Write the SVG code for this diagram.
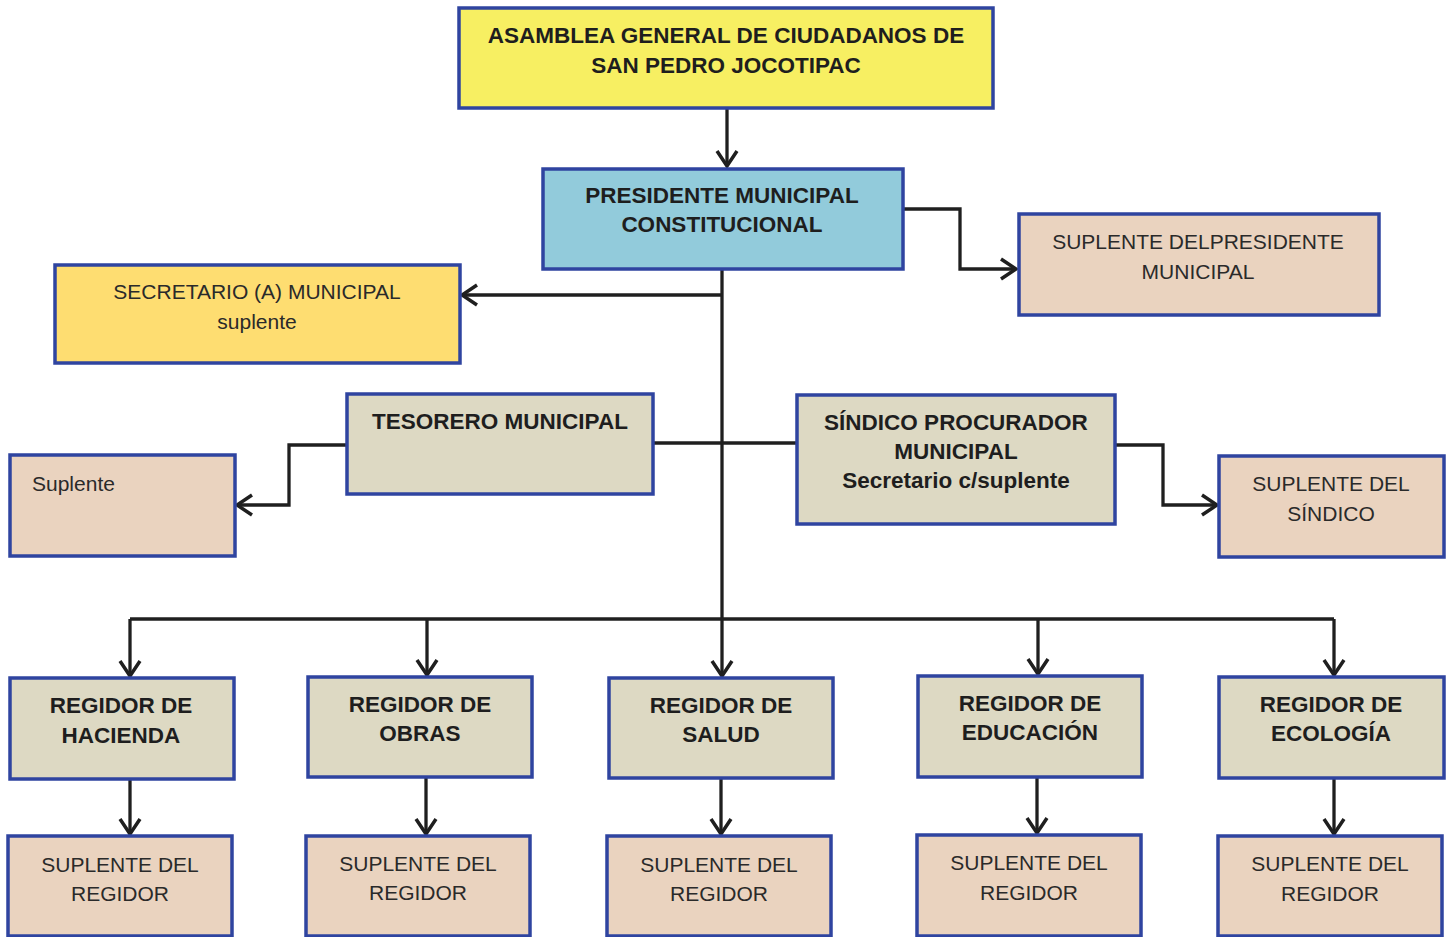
<svg xmlns="http://www.w3.org/2000/svg" width="1450" height="937" viewBox="0 0 1450 937">
<style>
.box{stroke:#2f44a0;stroke-width:3.5}
.yel{fill:#f7ef62}.blu{fill:#92cbdb}.pnk{fill:#ead3bf}.gol{fill:#fedd71}.tan{fill:#ddd9c3}
.b{font-family:"Liberation Sans",Arial,sans-serif;font-weight:bold;font-size:22.5px;fill:#1e1e1e;text-anchor:middle}
.r{font-family:"Liberation Sans",Arial,sans-serif;font-size:21px;fill:#2a2a2a;text-anchor:middle}
.c{fill:none;stroke:#1f1f1f;stroke-width:3.3}
</style>
<defs>
<marker id="a" markerUnits="userSpaceOnUse" viewBox="0 0 20 24" markerWidth="20" markerHeight="24" refX="17" refY="12" orient="auto">
<path d="M2,2 L17,12 L2,22" fill="none" stroke="#1f1f1f" stroke-width="3.5"/>
</marker>
</defs>
<rect width="1450" height="937" fill="#fff"/>
<g id="connectors">
<path class="c" d="M727,108 V166" marker-end="url(#a)"/>
<path class="c" d="M903,209 H960 V269 H1016" marker-end="url(#a)"/>
<path class="c" d="M722,269 V676" marker-end="url(#a)"/>
<path class="c" d="M722,295 H462" marker-end="url(#a)"/>
<path class="c" d="M650,443 H797"/>
<path class="c" d="M347,445 H289 V505 H237" marker-end="url(#a)"/>
<path class="c" d="M1104,445 H1163 V505 H1217" marker-end="url(#a)"/>
<path class="c" d="M130,619 H1334"/>
<path class="c" d="M130,619 V676" marker-end="url(#a)"/>
<path class="c" d="M427,619 V675" marker-end="url(#a)"/>
<path class="c" d="M1038,619 V674" marker-end="url(#a)"/>
<path class="c" d="M1334,619 V675" marker-end="url(#a)"/>
<path class="c" d="M130,779 V834" marker-end="url(#a)"/>
<path class="c" d="M426,777 V834" marker-end="url(#a)"/>
<path class="c" d="M721,778 V834" marker-end="url(#a)"/>
<path class="c" d="M1037,777 V833" marker-end="url(#a)"/>
<path class="c" d="M1334,779 V834" marker-end="url(#a)"/>
</g>
<g id="asamblea"><rect class="box yel" x="459" y="8" width="534" height="100"/>
<text class="b" x="726" y="43">ASAMBLEA GENERAL DE CIUDADANOS DE</text><text class="b" x="726" y="73">SAN PEDRO JOCOTIPAC</text></g>
<g id="presidente"><rect class="box blu" x="543" y="169" width="360" height="100"/>
<text class="b" x="722" y="203">PRESIDENTE MUNICIPAL</text><text class="b" x="722" y="232">CONSTITUCIONAL</text></g>
<g id="suplente-presidente"><rect class="box pnk" x="1019" y="214" width="360" height="101"/>
<text class="r" x="1198" y="249">SUPLENTE DELPRESIDENTE</text><text class="r" x="1198" y="279">MUNICIPAL</text></g>
<g id="secretario"><rect class="box gol" x="55" y="265" width="405" height="98"/>
<text class="r" x="257" y="299">SECRETARIO (A) MUNICIPAL</text><text class="r" x="257" y="329">suplente</text></g>
<g id="tesorero"><rect class="box tan" x="347" y="394" width="306" height="100"/>
<text class="b" x="500" y="429">TESORERO MUNICIPAL</text></g>
<g id="sindico"><rect class="box tan" x="797" y="395" width="318" height="129"/>
<text class="b" x="956" y="430">SÍNDICO PROCURADOR</text><text class="b" x="956" y="459">MUNICIPAL</text><text class="b" x="956" y="488">Secretario c/suplente</text></g>
<g id="suplente-tesorero"><rect class="box pnk" x="10" y="455" width="225" height="101"/>
<text class="r" x="32" y="491" style="text-anchor:start">Suplente</text></g>
<g id="suplente-sindico"><rect class="box pnk" x="1219" y="456" width="225" height="101"/>
<text class="r" x="1331" y="491">SUPLENTE DEL</text><text class="r" x="1331" y="521">SÍNDICO</text></g>
<g id="regidor-hacienda"><rect class="box tan" x="10" y="678" width="224" height="101"/>
<text class="b" x="121" y="713">REGIDOR DE</text><text class="b" x="121" y="743">HACIENDA</text></g>
<g id="regidor-obras"><rect class="box tan" x="308" y="677" width="224" height="100"/>
<text class="b" x="420" y="712">REGIDOR DE</text><text class="b" x="420" y="741">OBRAS</text></g>
<g id="regidor-salud"><rect class="box tan" x="609" y="678" width="224" height="100"/>
<text class="b" x="721" y="713">REGIDOR DE</text><text class="b" x="721" y="742">SALUD</text></g>
<g id="regidor-educacion"><rect class="box tan" x="918" y="676" width="224" height="101"/>
<text class="b" x="1030" y="711">REGIDOR DE</text><text class="b" x="1030" y="740">EDUCACIÓN</text></g>
<g id="regidor-ecologia"><rect class="box tan" x="1219" y="677" width="225" height="101"/>
<text class="b" x="1331" y="712">REGIDOR DE</text><text class="b" x="1331" y="741">ECOLOGÍA</text></g>
<g id="suplente-hacienda"><rect class="box pnk" x="8" y="836" width="224" height="100"/>
<text class="r" x="120" y="872">SUPLENTE DEL</text><text class="r" x="120" y="901">REGIDOR</text></g>
<g id="suplente-obras"><rect class="box pnk" x="306" y="836" width="224" height="100"/>
<text class="r" x="418" y="871">SUPLENTE DEL</text><text class="r" x="418" y="900">REGIDOR</text></g>
<g id="suplente-salud"><rect class="box pnk" x="607" y="836" width="224" height="100"/>
<text class="r" x="719" y="872">SUPLENTE DEL</text><text class="r" x="719" y="901">REGIDOR</text></g>
<g id="suplente-educacion"><rect class="box pnk" x="917" y="835" width="224" height="101"/>
<text class="r" x="1029" y="870">SUPLENTE DEL</text><text class="r" x="1029" y="900">REGIDOR</text></g>
<g id="suplente-ecologia"><rect class="box pnk" x="1218" y="836" width="224" height="100"/>
<text class="r" x="1330" y="871">SUPLENTE DEL</text><text class="r" x="1330" y="901">REGIDOR</text></g>
</svg>
